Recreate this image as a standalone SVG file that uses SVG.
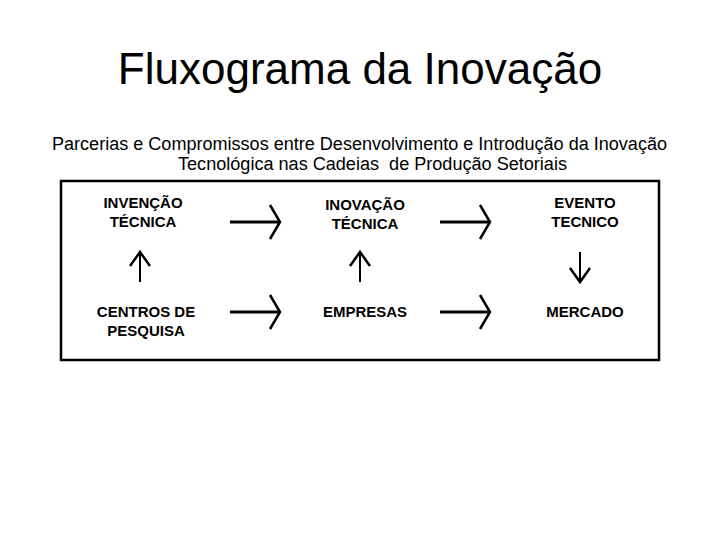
<svg xmlns="http://www.w3.org/2000/svg" width="720" height="540" viewBox="0 0 720 540">
<style>
.t{font-family:"Liberation Sans",Arial,sans-serif;fill:#000}
.title{font-size:44px}
.sub{font-size:18px}
.node{font-size:15px;font-weight:bold;text-anchor:middle}
.sh{stroke:#000;stroke-width:3;fill:none}
.hd{stroke:#000;stroke-width:2.5;fill:none;stroke-linejoin:miter}
</style>
<rect width="720" height="540" fill="#fff"/>
<text class="t title" x="360" y="84" text-anchor="middle">Fluxograma da Inovação</text>
<text class="t sub" x="52" y="150" textLength="615" lengthAdjust="spacingAndGlyphs">Parcerias e Compromissos entre Desenvolvimento e Introdução da Inovação</text>
<text class="t sub" x="178" y="170" textLength="389" lengthAdjust="spacingAndGlyphs" xml:space="preserve">Tecnológica nas Cadeias  de Produção Setoriais</text>
<rect id="frame" x="61" y="181" width="598" height="179" fill="none" stroke="#000" stroke-width="2.5"/>
<g id="invencao"><text class="t node" x="143" y="208">INVENÇÃO</text><text class="t node" x="143" y="227">TÉCNICA</text></g>
<g id="inovacao"><text class="t node" x="365" y="210">INOVAÇÃO</text><text class="t node" x="365" y="229">TÉCNICA</text></g>
<g id="evento"><text class="t node" x="585" y="208">EVENTO</text><text class="t node" x="585" y="227">TECNICO</text></g>
<g id="centros"><text class="t node" x="146" y="317">CENTROS DE</text><text class="t node" x="146" y="336">PESQUISA</text></g>
<g id="empresas"><text class="t node" x="365" y="317">EMPRESAS</text></g>
<g id="mercado"><text class="t node" x="585" y="317">MERCADO</text></g>
<g id="connectors">
<line class="sh" x1="230" y1="222" x2="279" y2="222"/><polyline class="hd" points="270,205 280,222 270,239"/>
<line class="sh" x1="440" y1="222" x2="489" y2="222"/><polyline class="hd" points="480,205 490,222 480,239"/>
<line class="sh" x1="230" y1="312" x2="279" y2="312"/><polyline class="hd" points="270,295 280,312 270,329"/>
<line class="sh" x1="440" y1="312" x2="489" y2="312"/><polyline class="hd" points="480,295 490,312 480,329"/>
<line class="sh" x1="140" y1="282" x2="140" y2="253" style="stroke-width:2"/><polyline class="hd" points="130,266 140,252 150,266"/>
<line class="sh" x1="360" y1="282" x2="360" y2="253" style="stroke-width:2"/><polyline class="hd" points="350,266 360,252 370,266"/>
<line class="sh" x1="580" y1="252" x2="580" y2="281" style="stroke-width:2"/><polyline class="hd" points="570,268 580,282 590,268"/>
</g>
</svg>
